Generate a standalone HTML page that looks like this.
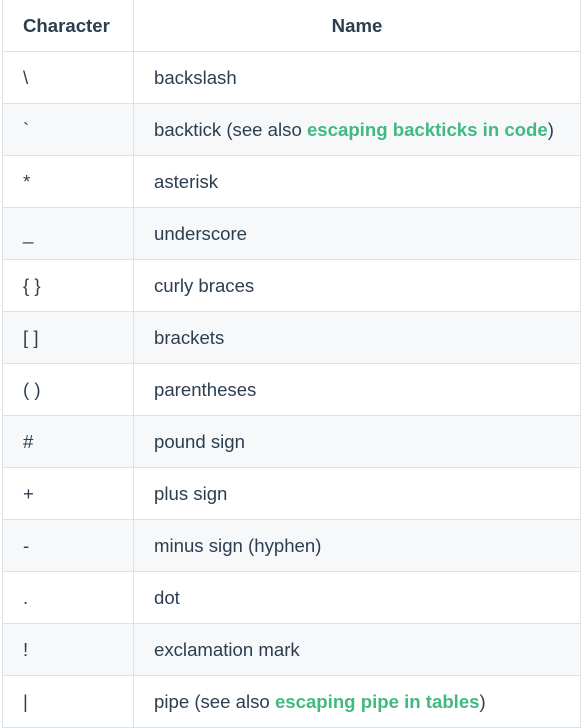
<!DOCTYPE html>
<html><head><meta charset="utf-8"><style>
html,body{margin:0;padding:0;background:#fff;width:584px;height:728px;overflow:hidden}
table{position:absolute;left:2px;top:-3px;border-collapse:collapse;width:579px;table-layout:fixed;font-family:"Liberation Sans",sans-serif;font-size:18.6px;color:#2c3e50}
td,th{border:1px solid #dfe2e5;height:52px;padding:0 0 0 20px;box-sizing:border-box;text-align:left;vertical-align:middle}
th{font-weight:bold;height:54px;padding-top:2px}
th.c{text-align:center;padding:2px 0 0 0}
tr:nth-child(2n+1) td{background:#f6f8fa}
a{color:#42b983;font-weight:bold;text-decoration:none}
</style></head><body>
<table>
<colgroup><col style="width:131px"><col></colgroup>
<tr><th>Character</th><th class="c">Name</th></tr>
<tr><td>\</td><td>backslash</td></tr>
<tr><td>`</td><td>backtick (see also <a>escaping backticks in code</a>)</td></tr>
<tr><td>*</td><td>asterisk</td></tr>
<tr><td>_</td><td>underscore</td></tr>
<tr><td>{ }</td><td>curly braces</td></tr>
<tr><td>[ ]</td><td>brackets</td></tr>
<tr><td>( )</td><td>parentheses</td></tr>
<tr><td>#</td><td>pound sign</td></tr>
<tr><td>+</td><td>plus sign</td></tr>
<tr><td>-</td><td>minus sign (hyphen)</td></tr>
<tr><td>.</td><td>dot</td></tr>
<tr><td>!</td><td>exclamation mark</td></tr>
<tr><td>|</td><td>pipe (see also <a>escaping pipe in tables</a>)</td></tr>
</table>
</body></html>
